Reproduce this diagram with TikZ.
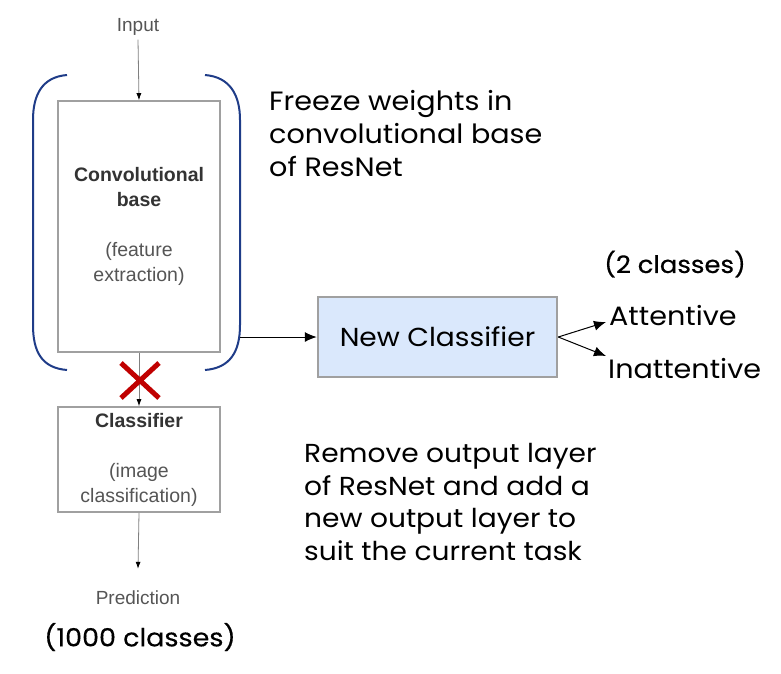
\documentclass[tikz,border=0pt]{standalone}
\usepackage{fontspec}
\setmainfont[FakeStretch=1.08]{Poppins}
\newfontfamily\montm[FakeStretch=1.08,FakeBold=0.4]{Poppins}
\newfontfamily\arialf{Liberation Sans}
\usetikzlibrary{arrows.meta}
\definecolor{bracketblue}{HTML}{1F3C88}
\definecolor{oldgray}{HTML}{555555}
\definecolor{boxgray}{HTML}{A0A0A0}
\definecolor{ncfill}{HTML}{DAE8FC}
\definecolor{xred}{HTML}{C00000}
\begin{document}
\begin{tikzpicture}[x=1pt,y=-1pt,
  lbl/.style={font=\arialf\fontsize{19}{25}\selectfont, text=oldgray, inner sep=0pt},
  oldbox/.style={draw=boxgray, line width=1.6pt, fill=white, align=center,
    font=\arialf\fontsize{19.5}{25}\selectfont, text=oldgray, inner sep=0pt},
  grayarrow/.style={draw=gray, line width=0.8pt, -{Latex[length=7pt,width=5pt,color=black]}},
  blackarrow/.style={draw=black, line width=1pt, -{Latex[length=12pt,width=10pt]}},
  bigtxt/.style={font=\fontsize{26.5}{33}\selectfont, text=black, inner sep=0pt, align=left},
  newbox/.style={draw=boxgray, line width=2.5pt, fill=ncfill, minimum width=239pt,
    minimum height=80pt, font=\fontsize{26}{28}\selectfont, inner sep=0pt},
  bracket/.style={draw=bracketblue, line width=2pt}
]
\useasboundingbox (0,0) rectangle (781,673);
% left column
\node[lbl] (input) at (138,27) {Input};
\node[oldbox, minimum width=162pt, minimum height=251pt] (conv) at (139,226.5)
  {\textbf{\color{black!80}Convolutional}\\\textbf{\color{black!80}base}\\[25pt](feature\\extraction)};
\node[oldbox, minimum width=162pt, minimum height=105pt] (cls) at (139,459.5)
  {\textbf{\color{black!80}Classifier}\\[25pt](image\\classification)};
\node[lbl] (pred) at (138,598) {Prediction};
\node[bigtxt, font=\montm\fontsize{25}{33}\selectfont] (thousand) at (140,637) {(1000 classes)};
\draw[grayarrow] ([yshift=-4pt]input.south) -- (conv.north);
\draw[grayarrow] (conv.south) -- (cls.north);
\draw[grayarrow] (cls.south) -- ([yshift=22pt]pred.north);
% brackets
\draw[bracket] (67,75) .. controls (42,77) and (33,95) .. (33,120) -- (33,325)
  .. controls (33,352) and (42,368) .. (67,370);
\draw[bracket] (205,75) .. controls (230,77) and (240,95) .. (240,120) -- (240,325)
  .. controls (240,352) and (230,368) .. (205,370);
\coordinate (br) at (240,337);
% red cross
\draw[xred, line width=5pt] (121,363) -- (159,398) (159,363) -- (121,398);
% new classifier
\node[newbox] (nc) at (437.5,337) {New Classifier};
\draw[blackarrow] (br) -- (nc.west);
\node[bigtxt, anchor=west] (att) at (609,316) {Attentive};
\node[bigtxt, anchor=west] (inatt) at (608,369) {Inattentive};
\node[bigtxt, anchor=west, font=\montm\fontsize{24}{30}\selectfont] (two) at (604,264) {(2 classes)};
\draw[blackarrow] (nc.east) -- ([xshift=-3pt,yshift=-6pt]att.west);
\draw[blackarrow] (nc.east) -- ([xshift=-2pt,yshift=13pt]inatt.west);
% notes
\node[bigtxt, anchor=west, font=\fontsize{26.5}{33}\selectfont] (freeze) at (269,134) {Freeze weights in\\convolutional base\\of ResNet};
\node[bigtxt, anchor=west, font=\fontsize{26}{32.5}\selectfont] (remove) at (304,502) {Remove output layer\\of ResNet and add a\\new output layer to\\suit the current task};
\end{tikzpicture}
\end{document}
